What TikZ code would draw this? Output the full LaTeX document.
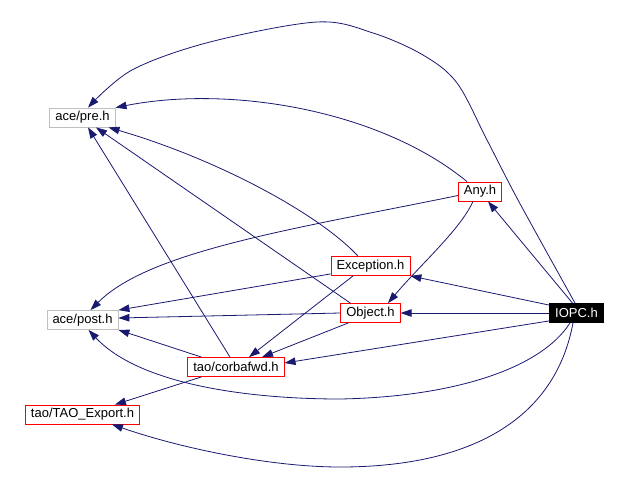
\documentclass[tikz,border=0pt]{standalone}
\usepackage{fontspec}
\setmainfont{Liberation Sans}
\usetikzlibrary{arrows.meta}
\definecolor{edgeblue}{RGB}{25,25,112}
\definecolor{boxgray}{RGB}{191,191,191}
\begin{document}
\begin{tikzpicture}[x=1pt,y=-1pt,
  file/.style={draw=red,line width=0.8pt,minimum height=19pt,inner xsep=5.5pt,inner ysep=0pt,font=\fontsize{13}{15}\selectfont},
  extfile/.style={file,draw=boxgray},
  mainfile/.style={file,draw=black,fill=black,text=white},
  dep/.style={draw=edgeblue,line width=0.8pt,-{Triangle[length=11pt,width=7.5pt]}}]
\useasboundingbox (0,0) rectangle (628,503);

\node[extfile] (pre) at (82.5,117.5) {ace/pre.h};
\node[extfile] (post) at (82.5,320) {ace/post.h};
\node[file] (export) at (82.5,414.5) {tao/TAO\_Export.h};
\node[file] (corbafwd) at (236,367) {tao/corbafwd.h};
\node[file] (exception) at (370.5,266) {Exception.h};
\node[file] (object) at (370.5,313) {Object.h};
\node[file] (any) at (480,191.5) {Any.h};
\node[mainfile] (iopc) at (576.5,313) {IOPC.h};

% IOPC.h
\draw[dep] plot[smooth,tension=0.55] coordinates {([xshift=-1.5pt]iopc.north) (518,200) (487,140) (457,83) (423,55) (373,33) (317,22) (210,42) (132,70) ([xshift=5.5pt]pre.north)};
\draw[dep] ([xshift=-4pt]iopc.north) -- ([xshift=8pt]any.south);
\draw[dep] ([yshift=-2pt]iopc.north west) -- (exception.south east);
\draw[dep] (iopc.west) -- (object.east);
\draw[dep] ([yshift=2pt]iopc.south west) -- ([yshift=4pt]corbafwd.east);
\draw[dep] ([xshift=-6.5pt]iopc.south) .. controls (540,370) and (450,397) .. (340,399)
  .. controls (250,399) and (140,385) .. ([xshift=6pt]post.south);
\draw[dep] ([xshift=-3.5pt]iopc.south) .. controls (555,420) and (470,467) .. (340,467)
  .. controls (270,467) and (180,448) .. ([xshift=-28pt]export.south east);

% Any.h
\draw[dep] ([xshift=-13pt]any.north) .. controls (380,110) and (230,85) .. (pre.north east);
\draw[dep] ([yshift=-4pt]any.west) .. controls (300,228) and (150,250) .. ([xshift=8pt]post.north);
\draw[dep] ([xshift=-7pt]any.south) .. controls (460,230) and (420,265) .. ([xshift=17.5pt]object.north);

% Exception.h
\draw[dep] ([xshift=-12.5pt]exception.north) .. controls (320,215) and (220,160) .. ([xshift=-7pt]pre.south east);
\draw[dep] ([yshift=2pt]exception.south west) -- (post.north east);
\draw[dep] ([xshift=-17.5pt]exception.south) -- ([xshift=13pt]corbafwd.north);

% Object.h
\draw[dep] ([xshift=10pt]object.north west) -- ([xshift=13.5pt]pre.south);
\draw[dep] (object.west) -- ([yshift=2pt]post.east);
\draw[dep] ([xshift=8pt]object.south west) -- ([xshift=26pt]corbafwd.north);

% tao/corbafwd.h
\draw[dep] ([xshift=-6pt]corbafwd.north) -- ([xshift=5.5pt]pre.south);
\draw[dep] ([xshift=14pt]corbafwd.north west) -- (post.south east);
\draw[dep] ([xshift=14pt]corbafwd.south west) -- ([xshift=-25pt]export.north east);

\end{tikzpicture}
\end{document}
